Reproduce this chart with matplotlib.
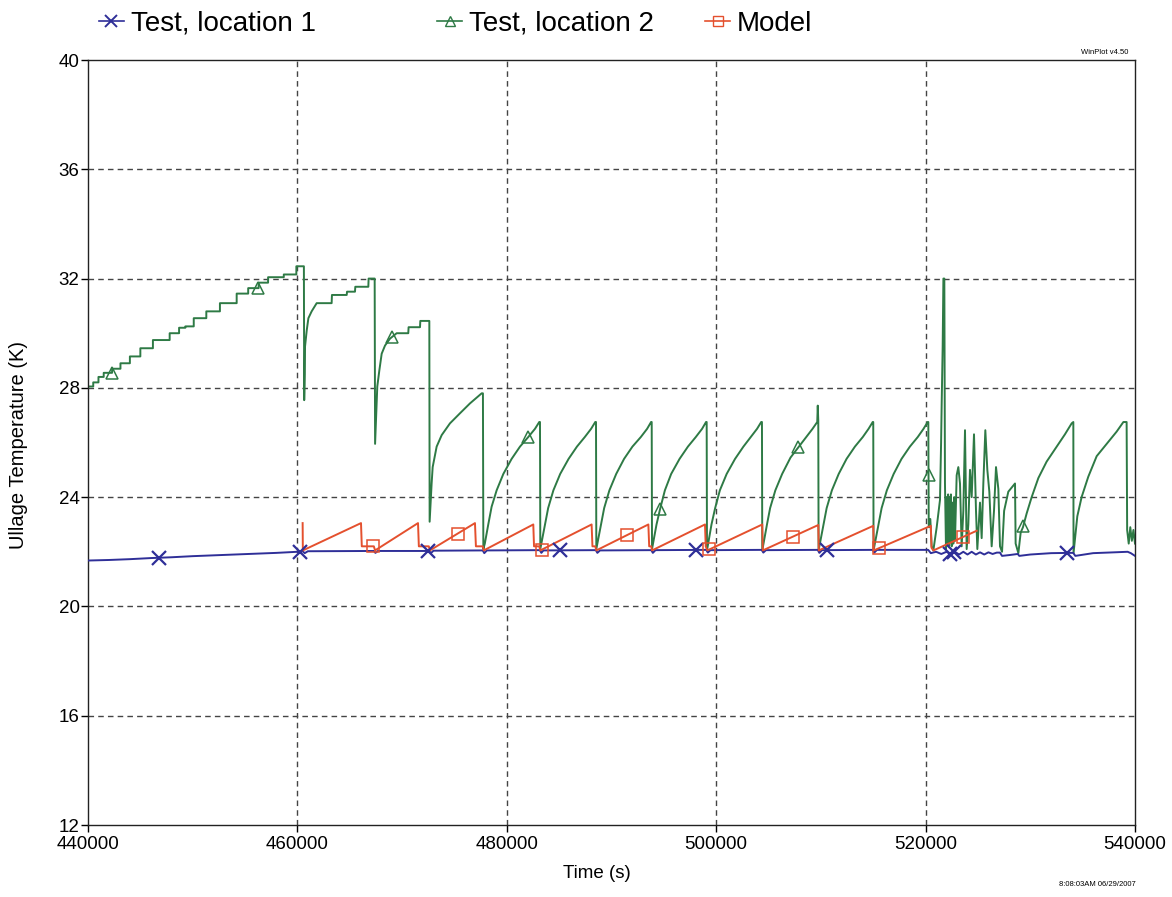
import numpy as np
import matplotlib
matplotlib.use("Agg")
import matplotlib.pyplot as plt
from matplotlib.lines import Line2D

plt.rcParams['font.family'] = ['Liberation Sans', 'DejaVu Sans']

# ---------------- data ----------------
x_ticks = [440000, 460000, 480000, 500000, 520000, 540000]
y_ticks = [12, 16, 20, 24, 28, 32, 36, 40]
series_labels = ["Test, location 1", "Test, location 2", "Model"]

# Test, location 2 : stair-step heating before first drop (step start times / levels)
green_stair_t = [440000, 440500, 441000, 441500, 442300, 443100, 444000, 445000, 446200, 447800,
                 448700, 449300, 450100, 451300, 452600, 454200, 455300, 456300, 457200, 458700,
                 459900, 460620]
green_stair_T = [28.05, 28.2, 28.4, 28.55, 28.7, 28.9, 29.15, 29.45, 29.75, 30.0,
                 30.2, 30.25, 30.55, 30.8, 31.1, 31.45, 31.65, 31.85, 32.05, 32.15,
                 32.45, 32.45]

# Test, location 2 : remainder
green_t = [460650, 460700, 460725, 460890, 461050, 461360, 461840, 463270, 463300, 464710,
           464740, 465500, 465530, 466775, 466800, 467380,
           467420, 467630, 467830, 468050, 468370, 468840, 469480, 470590, 470620, 471710,
           471740, 472600,
           472630, 472820, 472920, 473300, 473780, 474570, 475530, 476480, 477600, 477720,
           477760, 477900, 478230, 478550, 479030, 479670, 480460, 481260, 482050, 482690, 483100, 483170,
           483200, 483650, 483950, 484450, 485100, 485900, 486700, 487450, 488050, 488450, 488520,
           488550, 489000, 489300, 489800, 490450, 491200, 492000, 492800, 493400, 493780, 493840,
           493870, 494300, 494630, 495100, 495700, 496500, 497300, 498050, 498650, 499030, 499090,
           499120, 499550, 499900, 500350, 501000, 501800, 502600, 503300, 503900, 504300, 504370,
           504400, 504850, 505150, 505650, 506300, 507100, 507900, 508600, 509200, 509650, 509700, 509750,
           509780, 510250, 510550, 511050, 511700, 512450, 513250, 514000, 514550, 514950, 515000,
           515030, 515500, 515800, 516300, 516950, 517700, 518500, 519250, 519800, 520200, 520260,
           520300, 520450, 520580, 520740, 521060, 521375, 521480, 521535, 521630, 521700, 521789,
           521850, 521948, 522000, 522076, 522150, 522203, 522280, 522331, 522420, 522490, 522560,
           522649, 522730, 522808, 522967, 523126, 523285, 523444, 523604, 523763, 523922, 524081,
           524240, 524400, 524623, 524814, 524941, 525196, 525355, 525514, 525705, 525896, 526087,
           526310, 526533, 526724, 526947, 527106, 527300, 527500, 527900, 528540, 528600, 528860,
           529080, 529300, 529650, 530130, 530770, 531560, 532520, 533310, 533950, 534110,
           534130, 534490, 534900, 535540, 536340, 537290, 538250, 538890, 539200,
           539250, 539400, 539550, 539700, 539850, 540000]
green_T = [27.55, 28.5, 29.5, 30.1, 30.55, 30.8, 31.1, 31.1, 31.4, 31.4,
           31.52, 31.52, 31.7, 31.7, 32.0, 32.0,
           25.95, 28.05, 28.65, 29.25, 29.55, 29.8, 30.0, 30.0, 30.22, 30.22,
           30.45, 30.45,
           23.1, 24.5, 25.1, 25.85, 26.27, 26.7, 27.07, 27.43, 27.8, 27.8,
           22.1, 22.3, 23.0, 23.65, 24.25, 24.85, 25.4, 25.85, 26.2, 26.5, 26.75, 26.75,
           22.1, 23.0, 23.6, 24.25, 24.85, 25.4, 25.85, 26.2, 26.5, 26.75, 26.75,
           22.1, 23.0, 23.6, 24.25, 24.85, 25.4, 25.85, 26.2, 26.5, 26.75, 26.75,
           22.1, 23.0, 23.55, 24.25, 24.85, 25.4, 25.85, 26.2, 26.5, 26.75, 26.75,
           22.05, 23.0, 23.6, 24.25, 24.85, 25.4, 25.85, 26.2, 26.5, 26.75, 26.75,
           22.05, 23.0, 23.6, 24.25, 24.85, 25.45, 25.85, 26.2, 26.5, 26.75, 27.35, 26.8,
           22.05, 23.0, 23.6, 24.25, 24.85, 25.4, 25.85, 26.2, 26.5, 26.75, 26.75,
           22.05, 23.0, 23.6, 24.25, 24.85, 25.4, 25.85, 26.2, 26.5, 26.75, 26.75,
           22.9, 23.2, 22.2, 22.05, 22.9, 23.9, 26.0, 27.4, 29.5, 32.0, 32.0,
           24.5, 22.1, 24.0, 22.3, 24.1, 22.2, 24.0, 22.4, 24.1, 22.2, 23.8,
           22.3, 24.0, 22.4, 24.8, 25.1, 24.5, 22.2, 23.5, 26.45, 22.1, 23.0,
           25.0, 24.0, 26.3, 23.5, 22.1, 23.8, 22.5, 24.5, 26.45, 25.0, 24.2,
           22.2, 23.5, 25.1, 24.3, 22.2, 22.0, 23.5, 24.2, 24.5, 22.3, 21.95,
           22.7, 22.9, 23.4, 24.0, 24.7, 25.3, 25.85, 26.3, 26.7, 26.75,
           21.95, 23.3, 24.0, 24.75, 25.5, 25.95, 26.4, 26.75, 26.75,
           22.8, 22.3, 22.9, 22.4, 22.8, 22.3]

# Test, location 1
blue_t = [440000, 442000, 444000, 446000, 448000, 450000, 452000, 454000, 456000, 458000,
          460000, 460500, 460700, 461000, 467300, 467450, 467700, 472600, 472750, 473000,
          477700, 477850, 478100, 483150, 483300, 483500, 488500, 488650, 488900, 493800,
          493950, 494200, 499050, 499200, 499450, 504350, 504500, 504750, 509700, 509850,
          510100, 514950, 515100, 515350, 520250, 520500, 521000, 521500, 522000, 522400,
          522800, 523200, 523600, 524000, 524400, 524800, 525200, 525600, 526000, 526400,
          526800, 527100, 527300, 528000, 528800, 528950, 530000, 532000, 533800, 534100,
          534300, 536000, 538000, 539300, 539600, 540000]
blue_T = [21.68, 21.7, 21.73, 21.77, 21.8, 21.84, 21.87, 21.9, 21.93, 21.96,
          22.0, 22.02, 21.95, 22.02, 22.03, 21.96, 22.03, 22.03, 21.95, 22.04,
          22.05, 21.95, 22.05, 22.06, 21.96, 22.05, 22.06, 21.96, 22.05, 22.06,
          21.96, 22.06, 22.07, 21.97, 22.06, 22.07, 21.97, 22.06, 22.07, 21.96,
          22.06, 22.07, 21.97, 22.07, 22.07, 21.95, 22.0, 21.92, 22.0, 21.9,
          22.0, 21.9, 22.0, 21.9, 22.0, 21.9, 21.98, 21.9, 21.98, 21.92,
          21.97, 21.97, 21.85, 21.88, 21.92, 21.85, 21.9, 21.95, 21.96, 21.96,
          21.85, 21.95, 21.98, 22.0, 21.95, 21.85]

# Model
red_t = [460500, 460520, 466075, 466150, 467300, 467420, 471520, 471600, 472550, 472650,
         476960, 477050, 477700, 477800, 482530, 482600, 483100, 483200, 488100, 488180,
         488450, 488550, 493520, 493600, 493800, 493870, 498930, 499000, 499100, 499150,
         504400, 504450, 509750, 509800, 515000, 515050, 520500, 520560, 520750, 524880]
red_T = [23.05, 22.05, 23.05, 22.2, 22.2, 22.05, 23.05, 22.2, 22.2, 22.05,
         23.05, 22.2, 22.2, 22.05, 23.0, 22.2, 22.2, 22.05, 23.0, 22.2,
         22.2, 22.05, 23.0, 22.2, 22.2, 22.05, 23.0, 22.2, 22.1, 22.05,
         23.0, 22.05, 22.98, 22.05, 22.95, 22.05, 22.95, 22.15, 22.05, 22.77]

# marker times along each series
blue_marker_t = [446780, 460250, 472500, 485080, 498070, 510550, 522330, 522750, 533470]
green_marker_t = [442260, 456270, 469005, 482050, 494630, 507840, 520280, 529330]
red_marker_t = [467190, 475310, 483330, 491450, 499340, 507300, 515580, 523600]

# ---------------- styling ----------------
c_blue = "#2f2f98"
c_green = "#2e7a45"
c_red = "#e4502e"

fig = plt.figure(figsize=(11.72, 8.97), dpi=100)
ax = fig.add_axes([88 / 1172, 1 - 825 / 897, (1135 - 88) / 1172, (825 - 60) / 897])

# expand stair steps into corner points, then join with rest of series
st_t = np.repeat(green_stair_t, 2)[1:]
st_T = np.repeat(green_stair_T, 2)[:-1]
g_t = np.concatenate([st_t, green_t])
g_T = np.concatenate([st_T, green_T])

ax.plot(blue_t, blue_T, color=c_blue, lw=1.4, zorder=3)
ax.plot(g_t, g_T, color=c_green, lw=1.4, zorder=2)
ax.plot(red_t, red_T, color=c_red, lw=1.4, zorder=4)

ax.plot(blue_marker_t, np.interp(blue_marker_t, blue_t, blue_T), ls='none', marker='x',
        ms=10, mew=1.6, color=c_blue, zorder=5)
ax.plot(green_marker_t, np.interp(green_marker_t, g_t, g_T), ls='none', marker='^',
        ms=8, mew=1.1, mfc='none', color=c_green, zorder=5)
ax.plot(red_marker_t, np.interp(red_marker_t, red_t, red_T), ls='none', marker='s',
        ms=8, mew=1.1, mfc='none', color=c_red, zorder=5)

ax.set_xlim(440000, 540000)
ax.set_ylim(12, 40)
ax.set_xticks(x_ticks)
ax.set_xticklabels([str(v) for v in x_ticks])
ax.set_yticks(y_ticks)
ax.set_yticklabels([str(v) for v in y_ticks])
ax.tick_params(direction='out', length=5, width=1, labelsize=13.5, colors='black')
ax.tick_params(axis='y', pad=1)
ax.tick_params(axis='x', pad=3)
for s in ax.spines.values():
    s.set_linewidth(1.0)
    s.set_color('#222222')

for xv in x_ticks[1:-1]:
    ax.axvline(xv, color='#444444', lw=1.0, ls=(0, (4, 3)), zorder=1)
for yv in y_ticks[1:-1]:
    ax.axhline(yv, color='#444444', lw=1.0, ls=(0, (4, 3)), zorder=1)

ax.set_xlabel("Time (s)", fontsize=13.5)
ax.xaxis.set_label_coords(0.486, -0.052)
ax.set_ylabel("Ullage Temperature (K)", fontsize=14.5)
ax.yaxis.set_label_coords(-0.057, 0.497)

# legend entries laid out along the top
handles = [
    Line2D([], [], color=c_blue, lw=1.2, marker='x', ms=9, mew=1.4),
    Line2D([], [], color=c_green, lw=1.2, marker='^', ms=7, mew=1.0, mfc='none'),
    Line2D([], [], color=c_red, lw=1.2, marker='s', ms=7, mew=1.0, mfc='none'),
]
leg_x = [99 / 1172, 437 / 1172, 705 / 1172]
for h, lab, lx in zip(handles, series_labels, leg_x):
    fig.legend(handles=[h], labels=[lab], loc='center left', bbox_to_anchor=(lx, 1 - 24 / 897),
               frameon=False, fontsize=20, handlelength=0.9, handletextpad=0.25,
               borderpad=0, borderaxespad=0)

fig.text(1128 / 1172, 1 - 52 / 897, "WinPlot v4.50", fontsize=5.5, ha='right', va='center')
fig.text(1136 / 1172, 1 - 884 / 897, "8:08:03AM 06/29/2007", fontsize=5.5, ha='right', va='center')

fig.savefig("out.png", dpi=100)
